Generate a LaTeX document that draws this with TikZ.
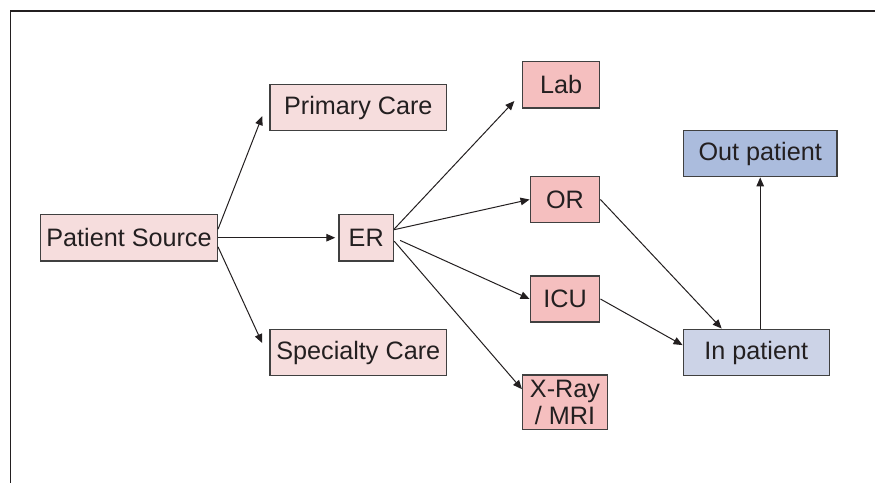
\documentclass[tikz,border=0pt]{standalone}
\usepackage{fontspec}
\setmainfont{Liberation Sans}
\usepackage{xcolor}
\usetikzlibrary{shapes,arrows.meta,positioning}
\definecolor{SrcPink}{RGB}{246,221,221}
\definecolor{DeptPink}{RGB}{245,191,191}
\definecolor{OutBlue}{RGB}{171,188,221}
\definecolor{InBlue}{RGB}{204,211,231}
\definecolor{Edge}{RGB}{64,64,64}
\definecolor{Ink}{RGB}{35,31,32}

\begin{document}
\begin{tikzpicture}[
      x=0.5pt, y=-0.5pt,
      box/.style={rectangle, draw=Edge, line width=0.75pt, inner sep=0pt, minimum height=23.2pt, text=Ink, font=\fontsize{12.6}{13.7}\selectfont, align=center},
      srcbox/.style={box, fill=SrcPink},
      deptbox/.style={box, fill=DeptPink},
      arrow/.style={-{Triangle[length=4.5pt,width=3.8pt]}, line width=0.5pt, draw=Ink}
    ]
    \useasboundingbox (0,0) rectangle (875,483);
    \draw[line width=0.8pt, draw=Ink] (875,10.7) -- (10.7,10.7) -- (10.7,483);

    % Sources
    \node[srcbox, minimum width=88.3pt] (ps) at (129,237.7) {Patient Source};
    \node[srcbox, minimum width=88.3pt] (primary) at (358.3,107.5) {Primary Care};
    \node[srcbox, minimum width=88.3pt] (specialty) at (358.3,352.5) {Specialty Care};
    \node[srcbox, minimum width=27.2pt] (er) at (366.2,237.7) {ER};

    % Departments
    \node[deptbox, minimum width=38.5pt] (lab) at (561.2,84.7) {Lab};
    \node[deptbox, minimum width=34.7pt] (or) at (565,199.5) {OR};
    \node[deptbox, minimum width=34.7pt] (icu) at (565,299) {ICU};
    \node[deptbox, minimum width=42.3pt, minimum height=27.2pt] (xray) at (565,402.2) {X-Ray\\/ MRI};

    % Patient outcome
    \node[box, fill=OutBlue, minimum width=76.9pt] (out) at (760.2,153.5) {Out patient};
    \node[box, fill=InBlue, minimum width=73pt] (in) at (756.3,352.5) {In patient};

    % Source arrows
    \draw[arrow] ([yshift=4.3pt]ps.east) -- ([xshift=-3.5pt,yshift=-4.3pt]primary.west);
    \draw[arrow, shorten >=1.5pt] (ps.east) -- (er.west);
    \draw[arrow] ([yshift=-4.6pt]ps.east) -- ([xshift=-3.5pt,yshift=4.7pt]specialty.west);

    % ER arrows
    \draw[arrow] ([yshift=4.3pt]er.east) -- ([xshift=-3.8pt,yshift=3.8pt]lab.south west);
    \draw[arrow] ([yshift=4pt]er.east) -- (or.west);
    \draw[arrow, shorten <=3.3pt] (er.east) -- (icu.west);
    \draw[arrow] ([yshift=-1.7pt]er.east) -- ([yshift=6.5pt]xray.west);

    % To in patient and out
    \draw[arrow] (or.east) -- ([xshift=-17.3pt]in.north);
    \draw[arrow] (icu.east) -- ([yshift=3.7pt]in.west);
    \draw[arrow] (in.north -| out.south) -- (out.south);
\end{tikzpicture}
\end{document}
